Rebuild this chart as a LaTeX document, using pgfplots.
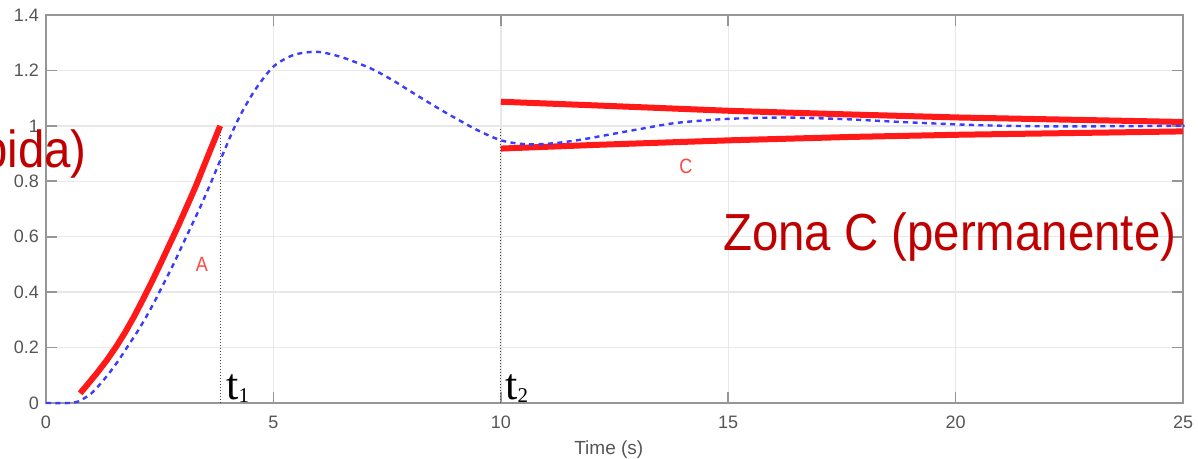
\documentclass[border=0pt]{standalone}
\usepackage{pgfplots}
\pgfplotsset{compat=1.18}
\usepackage{fontspec}
\setmainfont{Liberation Sans}
\newfontfamily\seriffont{Liberation Serif}
\definecolor{axgray}{RGB}{150,150,150}
\definecolor{ticklab}{RGB}{85,85,85}
\definecolor{gridc}{RGB}{232,232,232}
\definecolor{curveblue}{RGB}{60,60,255}
\definecolor{curvered}{RGB}{255,25,25}
\definecolor{labred}{RGB}{255,70,70}
\definecolor{zonered}{RGB}{192,0,0}
\definecolor{dotc}{RGB}{70,70,70}
\begin{document}
\begin{tikzpicture}
\begin{axis}[name=ax, scale only axis, width=568.5pt, height=194pt,
  xmin=0, xmax=25, ymin=0, ymax=1.4,
  xtick={0,5,10,15,20,25}, ytick={0,0.2,0.4,0.6,0.8,1,1.2,1.4},
  grid=major, major grid style={gridc, line width=0.7pt},
  axis line style={axgray, line width=1pt},
  tick style={axgray, line width=0.8pt},
  tick align=inside, major tick length=5.5pt,
  ticklabel style={font=\fontsize{9}{10}\selectfont, text=ticklab},
  xticklabel style={yshift=-3pt},
  /pgf/number format/assume math mode=true,
  xlabel={Time (s)},
  xlabel style={font=\fontsize{9.5}{11}\selectfont, text=ticklab, at={(axis description cs:0.495,0)}, anchor=base, yshift=-26pt},
  clip=false]
% red zone lines
\addplot[curvered, line width=3pt] coordinates {
(0.75,0.035) (0.93,0.07) (1.13,0.11) (1.34,0.155) (1.55,0.205) (1.74,0.255) (1.93,0.31) (2.12,0.37) (2.32,0.435) (2.51,0.5) (2.71,0.57) (2.91,0.64) (3.1,0.71) (3.3,0.785) (3.52,0.875) (3.83,1.0)};
\addplot[curvered, line width=3pt] coordinates {
(10.0,1.087) (12.2,1.073) (15.07,1.054) (17.7,1.041) (20.1,1.030) (25,1.014)};
\addplot[curvered, line width=3pt] coordinates {
(10.0,0.918) (12.2,0.932) (15.07,0.948) (17.7,0.960) (20.1,0.968) (25,0.980)};
% dotted verticals
\addplot[dotc, line width=0.5pt, dash pattern=on 0.6pt off 0.9pt] coordinates {(3.83,0) (3.83,0.99)};
\addplot[dotc, line width=0.5pt, dash pattern=on 0.6pt off 0.9pt] coordinates {(10.0,0) (10.0,0.99)};
% blue response
\addplot[curveblue, line width=1.2pt, dash pattern=on 2.5pt off 2.2pt, smooth] coordinates {
(0,0) (0.5,0) (0.7,0.005) (0.85,0.018) (1.0,0.035) (1.2,0.07) (1.4,0.11) (1.6,0.155) (1.8,0.205) (2.0,0.255) (2.2,0.31) (2.4,0.37) (2.6,0.435) (2.8,0.50) (3.0,0.57) (3.2,0.64) (3.4,0.71) (3.6,0.785) (3.83,0.875) (4.13,0.99) (4.35,1.062) (4.64,1.140) (5.01,1.215) (5.45,1.256) (5.96,1.267) (6.48,1.249) (7.06,1.213) (7.36,1.189) (7.72,1.155) (8.02,1.124) (8.68,1.058) (9.34,0.997) (9.67,0.970) (10.0,0.948) (10.33,0.937) (10.66,0.933) (11.0,0.935) (11.32,0.940) (11.76,0.950) (12.2,0.963) (13.04,0.988) (13.88,1.011) (14.98,1.025) (16.23,1.030) (17.58,1.024) (18.92,1.013) (20.6,1.002) (22.3,0.998) (24.8,1.0) (25,1.0)};
% labels
\node[text=labred, font=\fontsize{9}{10}\selectfont, inner sep=0] at (axis cs:3.43,0.50) {\scalebox{1}[1.15]{A}};
\node[text=labred, font=\fontsize{9}{10}\selectfont, inner sep=0] at (axis cs:14.07,0.852) {\scalebox{1}[1.15]{C}};
\node[anchor=base west, inner sep=0, font=\seriffont\fontsize{22}{24}\selectfont] at (axis cs:3.96,0.011) {t\raisebox{-1.5pt}{\fontsize{10.5}{11}\selectfont 1}};
\node[anchor=base west, inner sep=0, font=\seriffont\fontsize{22}{24}\selectfont] at (axis cs:10.09,0.011) {t\raisebox{-1.5pt}{\fontsize{10.5}{11}\selectfont 2}};
\node[anchor=base west, inner sep=0, text=zonered, font=\fontsize{23.7}{28}\selectfont] at (axis cs:14.88,0.549) {\scalebox{1}[1.1]{Zona C (permanente)}};
\node[overlay, anchor=base east, inner sep=0, text=zonered, font=\fontsize{23.7}{28}\selectfont] at (axis cs:0.903,0.851) {\scalebox{1}[1.1]{Zona A (rápida)}};
\end{axis}
\pgfresetboundingbox
\path[use as bounding box] ([shift={(-23pt,-28pt)}]ax.south west) rectangle ([shift={(7.5pt,7.5pt)}]ax.north east);
\end{tikzpicture}
\end{document}
